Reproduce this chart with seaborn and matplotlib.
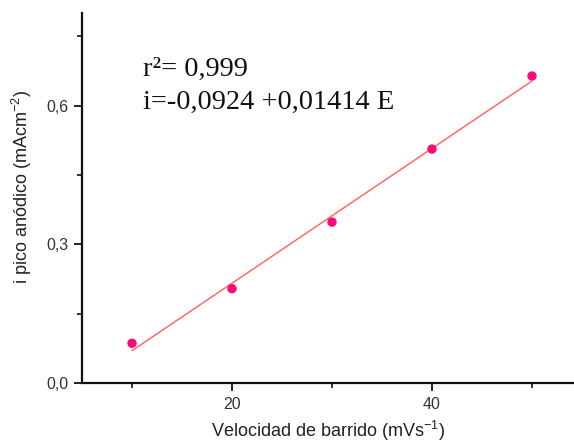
import numpy as np
import pandas as pd
import matplotlib
matplotlib.use("Agg")
import matplotlib.pyplot as plt
import seaborn as sns
from matplotlib.ticker import MultipleLocator, FuncFormatter

# Peak anodic current vs scan rate
scan_rate = [10, 20, 30, 40, 50]
peak_current = [0.086, 0.204, 0.348, 0.506, 0.664]

r2_text = "r²= 0,999"
eq_text = "i=-0,0924 +0,01414 E"

df = pd.DataFrame({"v": scan_rate, "i": peak_current})

sns.set_theme(style="ticks")
plt.rcParams["font.family"] = ["Liberation Sans", "DejaVu Sans"]
plt.rcParams["mathtext.fontset"] = "custom"
plt.rcParams["mathtext.rm"] = "Liberation Sans"
plt.rcParams["mathtext.it"] = "Liberation Sans:italic"
plt.rcParams["mathtext.bf"] = "Liberation Sans:bold"

fig = plt.figure(figsize=(5.74, 4.43), dpi=100)
ax = fig.add_axes([0.1429, 0.1354, 0.8571, 0.835])

sns.regplot(
    data=df, x="v", y="i", ax=ax, ci=None, truncate=True,
    scatter_kws=dict(s=46, color="#ff0a78", alpha=1, edgecolor="none", zorder=3),
    line_kws=dict(color="#ff6a6a", lw=1.1, zorder=2),
)

ax.set_xlim(5, 54.2)
ax.set_ylim(0, 0.8)
ax.xaxis.set_major_locator(MultipleLocator(20))
ax.xaxis.set_minor_locator(MultipleLocator(10))
ax.yaxis.set_major_locator(MultipleLocator(0.3))
ax.yaxis.set_minor_locator(MultipleLocator(0.15))
ax.yaxis.set_major_formatter(FuncFormatter(lambda v, p: f"{v:.1f}".replace(".", ",")))
ax.xaxis.set_major_formatter(FuncFormatter(lambda v, p: f"{v:.0f}"))

for s in ["top", "right"]:
    ax.spines[s].set_visible(False)
for s in ["left", "bottom"]:
    ax.spines[s].set_linewidth(1.6)
    ax.spines[s].set_color("#111111")

ax.tick_params(which="major", direction="out", length=6, width=1.3,
               labelsize=11.5, colors="#111111", labelcolor="#333333", pad=4)
ax.tick_params(which="minor", direction="out", length=3.5, width=1.2, colors="#111111")

ax.set_xlabel("Velocidad de barrido (mVs$^{-1}$)", fontsize=13, color="#222222", labelpad=5)
ax.set_ylabel("i pico anódico (mAcm$^{-2}$)", fontsize=13, color="#222222", labelpad=7)
ax.yaxis.set_label_coords(-0.097, 0.53)

ax.text(0.124, 0.830, r2_text, transform=ax.transAxes, fontsize=20.5,
        family="Liberation Serif", color="#111111", va="baseline")
ax.text(0.124, 0.742, eq_text, transform=ax.transAxes, fontsize=20.5,
        family="Liberation Serif", color="#111111", va="baseline")

fig.savefig("out.png", dpi=100)
